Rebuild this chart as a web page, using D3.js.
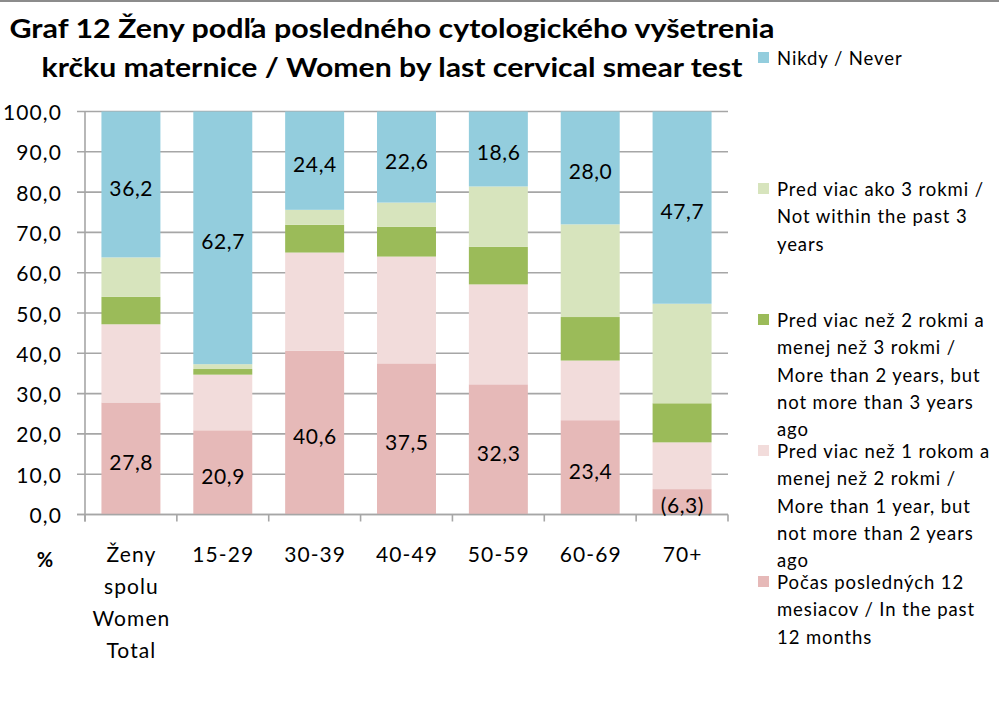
<!DOCTYPE html>
<html>
<head>
<meta charset="utf-8">
<script src="https://cdn.jsdelivr.net/npm/d3@7"></script>
<style>
  html, body { margin: 0; padding: 0; background: #fff; }
  svg { display: block; font-family: Lato, "Open Sans", "Liberation Sans", sans-serif; }
</style>
</head>
<body>
<svg id="chart" width="999" height="705"></svg>
<script>
// ---- data ----
const categories = ["Ženy spolu Women Total", "15-29", "30-39", "40-49", "50-59", "60-69", "70+"];
const categoryLines = [["Ženy", "spolu", "Women", "Total"], ["15-29"], ["30-39"], ["40-49"], ["50-59"], ["60-69"], ["70+"]];
const past12Months   = [27.8, 20.9, 40.6, 37.5, 32.3, 23.4, 6.3];
const oneToTwoYears  = [19.4, 13.8, 24.4, 26.5, 24.8, 14.8, 11.6];
const twoToThreeYears= [6.8, 1.4, 6.9, 7.4, 9.3, 10.8, 9.7];
const overThreeYears = [9.8, 1.2, 3.7, 6.0, 15.0, 23.0, 24.7];
const never          = [36.2, 62.7, 24.4, 22.6, 18.6, 28.0, 47.7];
const unreliable     = [false, false, false, false, false, false, true];
const yTicks = [0, 10, 20, 30, 40, 50, 60, 70, 80, 90, 100];
const titleLines = ["Graf 12 Ženy podľa posledného cytologického vyšetrenia",
                    "krčku maternice / Women by last cervical smear test"];
const seriesNames = ["Počas posledných 12 mesiacov / In the past 12 months",
                     "Pred viac než 1 rokom a menej než 2 rokmi / More than 1 year, but not more than 2 years ago",
                     "Pred viac než 2 rokmi a menej než 3 rokmi / More than 2 years, but not more than 3 years ago",
                     "Pred viac ako 3 rokmi / Not within the past 3 years",
                     "Nikdy / Never"];
const legendLines = [
  ["Počas posledných 12", "mesiacov / In the past", "12 months"],
  ["Pred viac než 1 rokom a", "menej než 2 rokmi /", "More than 1 year, but", "not more than 2 years", "ago"],
  ["Pred viac než 2 rokmi a", "menej než 3 rokmi /", "More than 2 years, but", "not more than 3 years", "ago"],
  ["Pred viac ako 3 rokmi /", "Not within the past 3", "years"],
  ["Nikdy / Never"]
];
const seriesValues = [past12Months, oneToTwoYears, twoToThreeYears, overThreeYears, never];
const labelledSeries = [0, 4];

// ---- styles ----
const colors = ["#E6B9B8", "#F2DCDB", "#9BBB59", "#D7E4BD", "#93CDDD"];
const gridColor = "#A6A6A6";
const fmt = v => v.toFixed(1).replace(".", ",");

const svg = d3.select("#chart");

// top border line
svg.append("line").attr("x1", 0).attr("x2", 999).attr("y1", 1).attr("y2", 1)
  .attr("stroke", "#8c8c8c").attr("stroke-width", 2);

// title
const titleG = svg.append("g");
[28, 67].forEach((y, i) => {
  titleG.append("text")
    .attr("x", 392).attr("y", y)
    .attr("text-anchor", "middle").attr("dominant-baseline", "central")
    .attr("font-weight", "bold").attr("font-size", 26)
    .attr("textLength", i === 0 ? 765 : 701).attr("lengthAdjust", "spacingAndGlyphs")
    .attr("fill", "#000")
    .text(titleLines[i]);
});

// scales
const x = d3.scaleBand().domain(categories).range([85, 728]).paddingInner(0.358).paddingOuter(0.179);
const y = d3.scaleLinear().domain([0, 100]).range([514.5, 111.5]);

// grid
svg.append("g").selectAll("line").data(yTicks).join("line")
  .attr("x1", 77).attr("x2", 728)
  .attr("y1", d => y(d)).attr("y2", d => y(d))
  .attr("stroke", gridColor).attr("stroke-width", 1.6);

// stacked data
const table = categories.map((c, i) => {
  const o = { cat: c };
  seriesValues.forEach((s, k) => o["s" + k] = s[i]);
  return o;
});
const keys = seriesValues.map((s, k) => "s" + k);
const stacked = d3.stack().keys(keys)(table);

svg.append("g").selectAll("g").data(stacked).join("g")
  .attr("fill", (d, k) => colors[k])
  .selectAll("rect").data(d => d).join("rect")
  .attr("x", d => x(d.data.cat))
  .attr("width", x.bandwidth())
  .attr("y", d => y(d[1]))
  .attr("height", d => y(d[0]) - y(d[1]));

// axes lines
svg.append("line").attr("x1", 85).attr("x2", 85).attr("y1", y(100)).attr("y2", y(0) + 7)
  .attr("stroke", gridColor).attr("stroke-width", 1.6);
svg.append("line").attr("x1", 77).attr("x2", 728).attr("y1", y(0)).attr("y2", y(0))
  .attr("stroke", gridColor).attr("stroke-width", 1.6);
// x ticks at band boundaries
const bounds = categories.map(c => x(c) - x.step() * x.paddingInner() / 2).concat([728]);
svg.append("g").selectAll("line").data(bounds).join("line")
  .attr("x1", d => d).attr("x2", d => d).attr("y1", y(0)).attr("y2", y(0) + 7)
  .attr("stroke", gridColor).attr("stroke-width", 1.6);

// y labels
svg.append("g").selectAll("text").data(yTicks).join("text")
  .attr("x", 62).attr("y", d => y(d))
  .attr("text-anchor", "end").attr("dominant-baseline", "central")
  .attr("font-size", 21).attr("letter-spacing", 1.1).attr("fill", "#000")
  .text(d => fmt(d));

// x labels
const xl = svg.append("g");
categories.forEach((c, i) => {
  categoryLines[i].forEach((ln, j) => {
    xl.append("text")
      .attr("x", x(c) + x.bandwidth() / 2 + 0.5).attr("y", 553 + j * 32)
      .attr("text-anchor", "middle").attr("dominant-baseline", "central")
      .attr("font-size", 21).attr("letter-spacing", 1.1).attr("fill", "#000")
      .text(ln);
  });
});
svg.append("text").attr("x", 45).attr("y", 559)
  .attr("text-anchor", "middle").attr("dominant-baseline", "central")
  .attr("font-size", 20).attr("font-weight", "bold").text("%");

// data labels
labelledSeries.forEach(k => {
  svg.append("g").selectAll("text").data(stacked[k]).join("text")
    .attr("x", d => x(d.data.cat) + x.bandwidth() / 2 + 0.3)
    .attr("y", d => (y(d[0]) + y(d[1])) / 2 + 3)
    .attr("text-anchor", "middle").attr("dominant-baseline", "central")
    .attr("font-size", 21).attr("letter-spacing", 0.6).attr("fill", "#000")
    .text((d, i) => unreliable[i] && k === 0 ? "(" + fmt(d.data["s" + k]) + ")" : fmt(d.data["s" + k]));
});

// legend (top: Nikdy, then down)
const legendOrder = [4, 3, 2, 1, 0];
const lg = svg.append("g");
legendOrder.forEach((k, idx) => {
  const y0 = 58 + idx * 131;
  lg.append("rect").attr("x", 758).attr("y", y0 - 6).attr("width", 11).attr("height", 11)
    .attr("fill", colors[k]);
  legendLines[k].forEach((ln, j) => {
    lg.append("text").attr("x", 777).attr("y", y0 + j * 27.3)
      .attr("dominant-baseline", "central")
      .attr("font-size", 18.5).attr("letter-spacing", 0.9).attr("fill", "#000")
      .text(ln);
  });
});
</script>
</body>
</html>
